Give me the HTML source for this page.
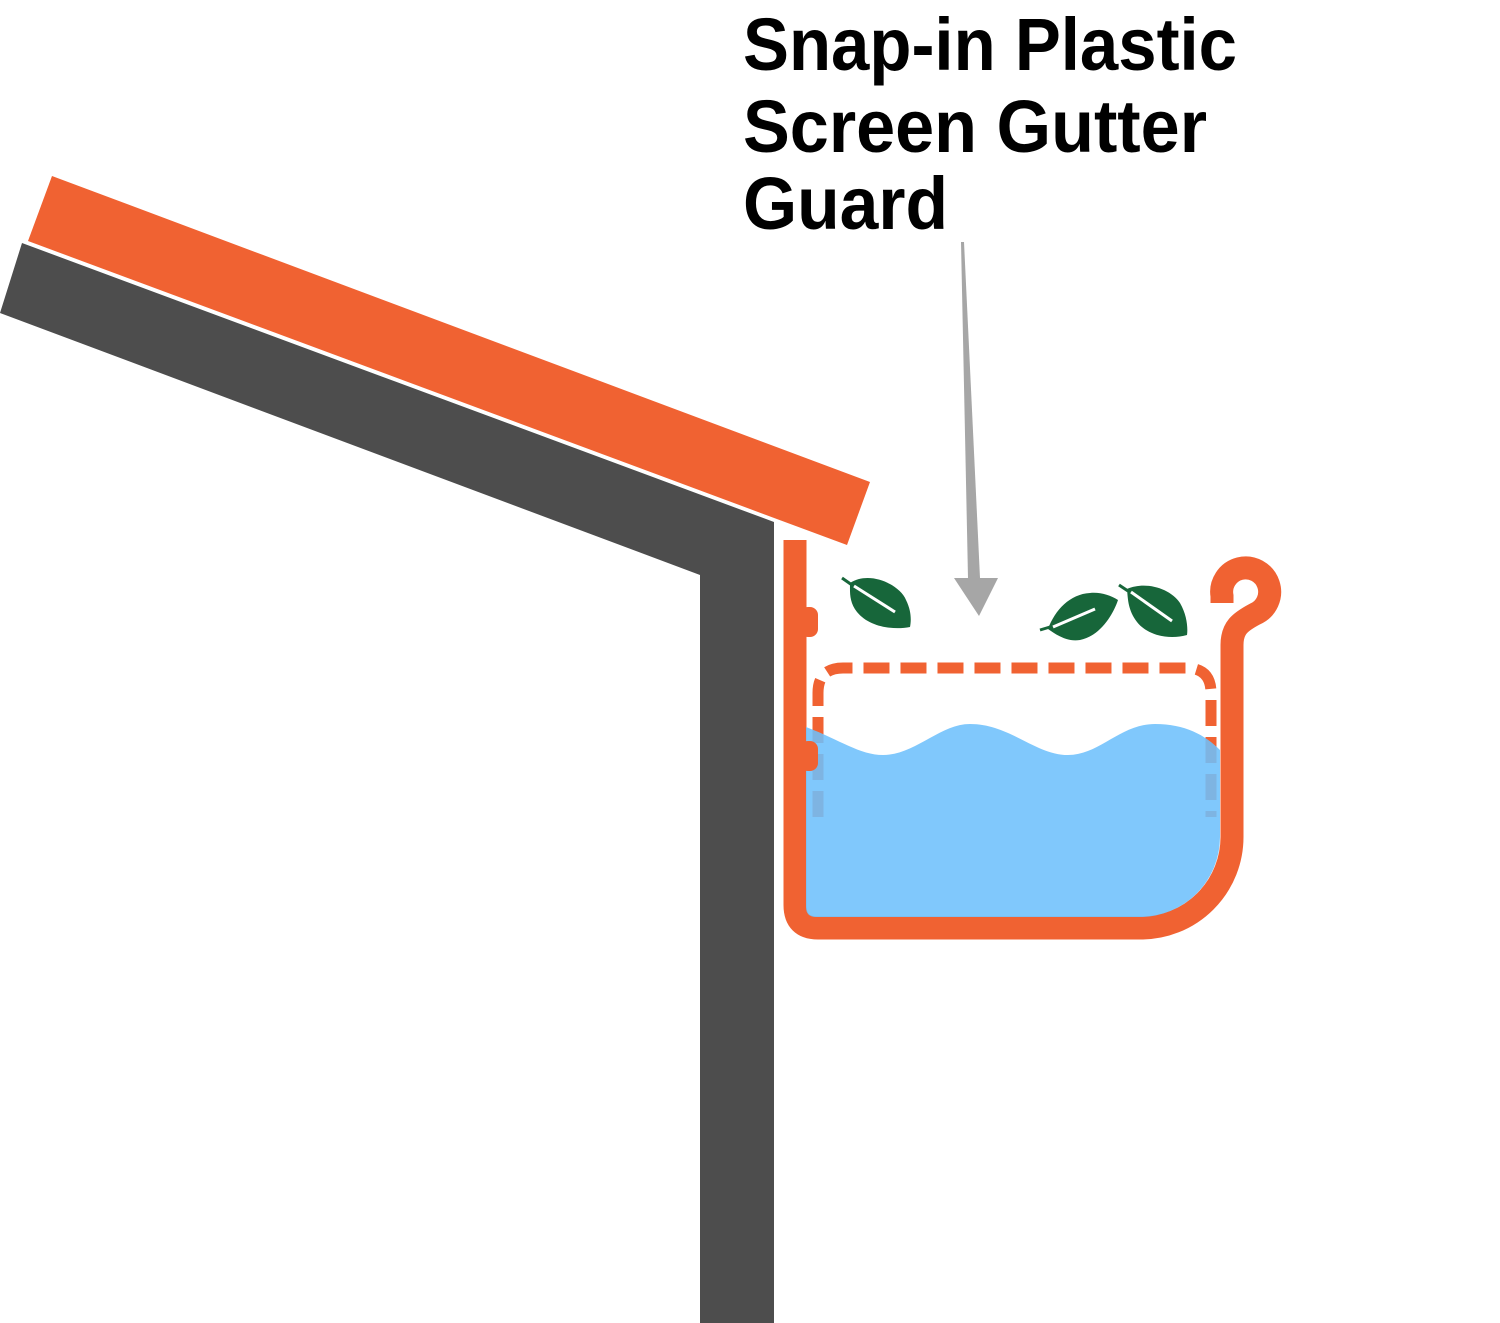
<!DOCTYPE html>
<html><head><style>html,body{margin:0;padding:0;background:#fff}svg{display:block}</style></head>
<body>
<svg width="1500" height="1323" viewBox="0 0 1500 1323" xmlns="http://www.w3.org/2000/svg">
<rect width="1500" height="1323" fill="#fff"/>
<polygon points="22,243 774,522 774,1323 700,1323 700,575 0,313" fill="#4d4d4d"/>
<polygon points="52,176 870,482 847,545 28,241" fill="#f06232"/>
<g font-family="Liberation Sans, sans-serif" font-weight="bold" font-size="74" fill="#000">
<text x="743" y="70" textLength="494" lengthAdjust="spacingAndGlyphs">Snap-in Plastic</text>
<text x="743" y="152" textLength="464" lengthAdjust="spacingAndGlyphs">Screen Gutter</text>
<text x="743" y="229" textLength="205" lengthAdjust="spacingAndGlyphs">Guard</text>
</g>
<polygon points="961,242 964,242 980,578 968,578" fill="#a6a6a6"/>
<polygon points="954,578 998,578 979,616" fill="#a6a6a6"/>
<path d="M818 817 V693 Q818 668 843 668 H1186 Q1211 668 1211 693 V817" fill="none" stroke="#f06232" stroke-width="11" stroke-dasharray="26 11"/>
<path d="M795 540 V905 Q795 928 818 928 H1141 A91 91 0 0 0 1232 837 V645 C1232 628 1240 622 1255 614 A24 24 0 1 0 1222 596 V603" fill="none" stroke="#f06232" stroke-width="23"/>
<rect x="800" y="607" width="18" height="30" rx="8" fill="#f06232"/>
<path d="M806 727 C840 740 860 755 883 755 C915 755 940 724 970 724 C1010 724 1035 755 1068 755 C1100 755 1120 724 1155 724 C1185 724 1205 735 1220 750 V837 A80 80 0 0 1 1140 917 H816 Q806 917 806 907 Z" fill="rgb(110,192,252)" fill-opacity="0.875"/>
<rect x="800" y="741" width="18" height="30" rx="8" fill="#f06232"/>
<g fill="#17663a">
<path d="M850 583 C870 570 900 585 906 600 C912 612 911 622 910 627 C895 630 870 628 857 612 C849 602 850 592 850 583 Z"/>
<line x1="842" y1="578" x2="852" y2="585" stroke="#17663a" stroke-width="3"/>
<path d="M854 586 L895 612" stroke="#fff" stroke-width="3"/>
<path d="M1048 629 C1055 610 1070 594 1090 593 C1100 592 1110 595 1118 600 C1113 615 1100 636 1080 640 C1068 642 1058 636 1048 629 Z"/>
<line x1="1040" y1="630" x2="1050" y2="627" stroke="#17663a" stroke-width="3"/>
<path d="M1053 627 L1095 609" stroke="#fff" stroke-width="3"/>
<path d="M1127 589 C1145 581 1170 588 1180 603 C1187 615 1188 628 1187 635 C1170 640 1148 636 1137 622 C1128 610 1128 600 1127 589 Z"/>
<line x1="1119" y1="585" x2="1128" y2="591" stroke="#17663a" stroke-width="3"/>
<path d="M1131 592 L1172 621" stroke="#fff" stroke-width="3"/>
</g>
</svg>
</body></html>
